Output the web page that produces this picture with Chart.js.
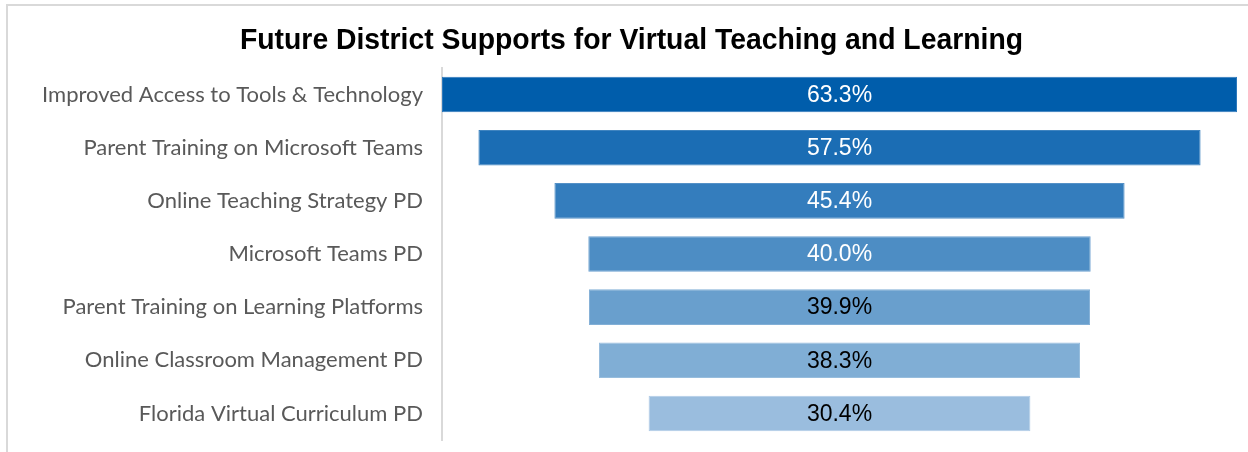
<!DOCTYPE html>
<html>
<head>
<meta charset="utf-8">
<script src="https://cdn.jsdelivr.net/npm/chart.js@4"></script>
<style>
  html, body { margin: 0; padding: 0; background: #ffffff; }
  #wrap { width: 1248px; height: 452px; position: relative; }
</style>
</head>
<body>
<div id="wrap"><canvas id="c" width="1248" height="452"></canvas></div>
<script>
const categories = [
  'Improved Access to Tools & Technology',
  'Parent Training on Microsoft Teams',
  'Online Teaching Strategy PD',
  'Microsoft Teams PD',
  'Parent Training on Learning Platforms',
  'Online Classroom Management PD',
  'Florida Virtual Curriculum PD'
];
const values = [63.3, 57.5, 45.4, 40.0, 39.9, 38.3, 30.4];
const titleText = 'Future District Supports for Virtual Teaching and Learning';

const barColors = ['#005dab', '#1b6db4', '#347dbd', '#4d8dc4', '#699fcd', '#80aed5', '#9abdde'];
const barBorders = ['#2c78bb', '#3f84c0', '#5591c7', '#6b9fcf', '#82afd6', '#97bddd', '#b0cbe6'];
const labelColors = ['#ffffff', '#ffffff', '#ffffff', '#ffffff', '#000000', '#000000', '#000000'];

const half = Math.max(...values) / 2;

const framePlugin = {
  id: 'frame',
  beforeDraw(chart) {
    const ctx = chart.ctx;
    ctx.save();
    ctx.fillStyle = '#ffffff';
    ctx.fillRect(0, 0, chart.width, chart.height);
    ctx.strokeStyle = '#d9d9d9';
    ctx.lineWidth = 2;
    ctx.beginPath();
    ctx.moveTo(7, chart.height + 2);
    ctx.lineTo(7, 5);
    ctx.lineTo(chart.width + 2, 5);
    ctx.stroke();
    ctx.restore();
  }
};

const titlePlugin = {
  id: 'narrowTitle',
  afterDraw(chart) {
    const ctx = chart.ctx;
    ctx.save();
    ctx.font = 'bold 29px "Liberation Sans", Arial, sans-serif';
    ctx.fillStyle = '#000000';
    ctx.textAlign = 'center';
    ctx.textBaseline = 'alphabetic';
    const w = ctx.measureText(titleText).width;
    const sx = 783 / w;
    ctx.translate(631.5, 48.5);
    ctx.scale(sx, 1);
    ctx.fillText(titleText, 0, 0);
    ctx.restore();
  }
};

const valueLabelPlugin = {
  id: 'valueLabels',
  afterDatasetsDraw(chart) {
    const ctx = chart.ctx;
    const meta = chart.getDatasetMeta(0);
    ctx.save();
    ctx.font = '23px "Liberation Sans", Arial, sans-serif';
    ctx.textAlign = 'center';
    ctx.textBaseline = 'middle';
    meta.data.forEach((el, i) => {
      const p = el.getProps(['x', 'y', 'base'], true);
      const cx = (p.x + p.base) / 2;
      ctx.fillStyle = labelColors[i];
      ctx.fillText(values[i].toFixed(1) + '%', cx, p.y + 1);
    });
    ctx.restore();
  }
};

new Chart(document.getElementById('c'), {
  type: 'bar',
  data: {
    labels: categories,
    datasets: [{
      data: values.map(v => [-v / 2, v / 2]),
      backgroundColor: barColors,
      borderColor: barBorders,
      borderWidth: 1,
      borderSkipped: false,
      barPercentage: 0.67,
      categoryPercentage: 1.0
    }]
  },
  options: {
    indexAxis: 'y',
    responsive: false,
    animation: false,
    layout: { padding: { left: 0, right: 11, top: 68, bottom: 12 } },
    plugins: {
      legend: { display: false },
      tooltip: { enabled: false },
      title: { display: false }
    },
    scales: {
      x: {
        display: false,
        min: -half,
        max: half
      },
      y: {
        afterFit(scale) {
          scale.width = 442;
          scale.paddingTop = 0;
          scale.paddingBottom = 0;
        },
        grid: { display: true, drawOnChartArea: false, drawTicks: false },
        border: { display: true, color: '#d9d9d9', width: 2 },
        ticks: {
          color: '#595959',
          padding: 19,
          font: { family: 'Lato, "Open Sans", sans-serif', size: 22 }
        }
      }
    }
  },
  plugins: [framePlugin, titlePlugin, valueLabelPlugin]
});
</script>
</body>
</html>
